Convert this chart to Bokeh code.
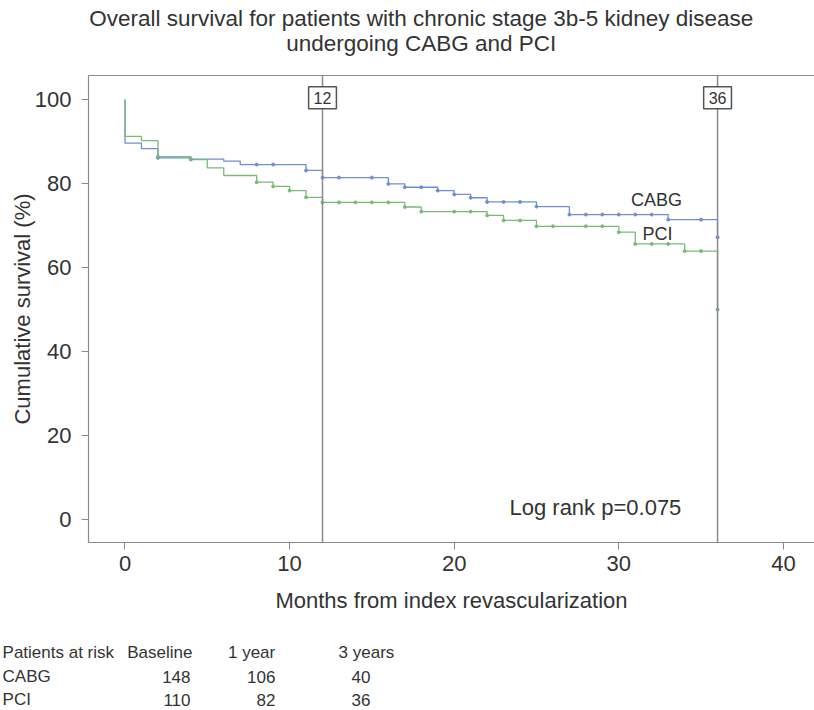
from bokeh.plotting import figure
from bokeh.layouts import column
from bokeh.models import Span, Label, FixedTicker, Range1d, LinearAxis
from bokeh.core.properties import value
from bokeh.embed import file_html
from bokeh.resources import INLINE

# ---- data ----
cabg_t = [0, 0, 1, 2, 4, 6, 7, 11, 12, 16, 17, 19, 20, 21, 22, 25, 27, 33, 36]
cabg_s = [100, 89.6, 88.3, 86.1, 85.8, 85.3, 84.5, 83.1, 81.4, 79.9, 79.1, 78.3, 77.4, 76.6, 75.6, 74.5, 72.6, 71.4, 67.2]
cabg_cens = [2, 4, 8, 9, 11, 12, 13, 15, 16, 17, 18, 19, 20, 21, 22, 23, 24, 25, 27, 28, 29, 30, 31, 32, 33, 35, 36]

pci_t = [0, 0, 1, 2, 4, 5, 6, 8, 9, 10, 11, 12, 17, 18, 22, 23, 25, 30, 31, 34, 36]
pci_s = [100, 91.2, 90.2, 86.4, 85.7, 83.7, 81.9, 80.3, 79.3, 78.3, 76.7, 75.5, 74.4, 73.3, 72.4, 71.2, 69.8, 68.4, 65.6, 63.9, 50.0]
pci_cens = [2, 4, 8, 9, 10, 11, 12, 13, 14, 15, 16, 17, 18, 20, 21, 22, 23, 24, 25, 26, 28, 29, 30, 31, 32, 33, 34, 35, 36]

landmarks = [12, 36]
x_ticks = [0, 10, 20, 30, 40]
y_ticks = [0, 20, 40, 60, 80, 100]

risk_header = ["Patients at risk", "Baseline", "1 year", "3 years"]
risk_groups = ["CABG", "PCI"]
risk_baseline = [148, 110]
risk_1yr = [106, 82]
risk_3yr = [40, 36]

title_lines = ["Overall survival for patients with chronic stage 3b-5 kidney disease",
               "undergoing CABG and PCI"]

BLUE = "#6f8ed6"
GREEN = "#78bb78"
TXT = "#333333"
GRAY = "#8a8a8a"
FONT = "Liberation Sans"
W = 814
X_LO_FULL, X_LO, X_HI = -7.564, -2.2175, 41.89   # month scale (full canvas / plot frame)


def surv_at(ts, ss, t):
    v = ss[0]
    for ti, si in zip(ts, ss):
        if ti <= t:
            v = si
    return v


def bare_fig(h, y0, y1):
    f = figure(width=W, height=h, output_backend="svg", toolbar_location=None,
               x_range=Range1d(X_LO_FULL, X_HI), y_range=Range1d(y0, y1),
               x_axis_type=None, y_axis_type=None, frame_align=False,
               min_border_left=0, min_border_right=0, min_border_top=0, min_border_bottom=0)
    f.grid.visible = False
    f.outline_line_color = None
    return f


def txt(f, x, y, text, size, align="center"):
    f.text(x=[x], y=[y], text=[text], text_align=align, text_baseline="middle",
           text_font=value(FONT), text_font_size=size, text_color=TXT)


# ---- title strip ----
pt = bare_fig(60, 60, 0)
txt(pt, 18.0, 18, title_lines[0], "22.5px")
txt(pt, 18.0, 43, title_lines[1], "22.5px")

# ---- main plot ----
p = figure(width=W, height=570, output_backend="svg", toolbar_location=None,
           x_range=(X_LO, X_HI), y_range=(-5.48, 105.71), frame_align=False,
           min_border_left=88, min_border_right=0, min_border_top=15, min_border_bottom=88)
p.grid.visible = False
p.outline_line_color = None

bx = p.below[0]
ly = p.left[0]
for ax in (bx, ly):
    ax.axis_line_color = GRAY
    ax.axis_line_width = 1.2
    ax.major_tick_line_color = GRAY
    ax.major_tick_out = 7
    ax.major_tick_in = 0
    ax.minor_tick_line_color = None
    ax.major_label_text_font = FONT
    ax.major_label_text_font_size = "22px"
    ax.major_label_text_color = TXT
    ax.axis_label_text_font = FONT
    ax.axis_label_text_font_size = "22px"
    ax.axis_label_text_color = TXT
    ax.axis_label_text_font_style = "normal"

bx.ticker = FixedTicker(ticks=x_ticks)
ly.ticker = FixedTicker(ticks=y_ticks)
bx.axis_label = "Months from index revascularization"
ly.axis_label = "Cumulative survival (%)"
bx.major_label_standoff = 6
bx.axis_label_standoff = 14
ly.major_label_standoff = 10
ly.axis_label_standoff = -3

# top border of the frame only (its right side lies beyond the picture edge)
top_ax = LinearAxis(ticker=FixedTicker(ticks=[]), axis_line_color=GRAY, axis_line_width=1.2,
                    major_tick_line_color=None, minor_tick_line_color=None,
                    major_tick_out=0, major_tick_in=0, minor_tick_out=0, minor_tick_in=0,
                    major_label_standoff=0, major_label_text_font_size="0px",
                    major_label_text_color=None)
p.add_layout(top_ax, "above")

for lm in landmarks:
    p.add_layout(Span(location=lm, dimension="height", line_color=GRAY, line_width=1.5))

p.step(cabg_t, cabg_s, mode="after", line_color=BLUE, line_width=1.3)
p.step(pci_t, pci_s, mode="after", line_color=GREEN, line_width=1.3)
p.scatter(cabg_cens, [surv_at(cabg_t, cabg_s, t) for t in cabg_cens], size=3,
          marker="circle", fill_color=BLUE, line_color=BLUE)
p.scatter(pci_cens, [surv_at(pci_t, pci_s, t) for t in pci_cens], size=3,
          marker="circle", fill_color=GREEN, line_color=GREEN)

for lm in landmarks:
    p.add_layout(Label(x=lm, y=100.4, text=str(lm), text_align="center", text_baseline="middle",
                       text_font=FONT, text_font_size="16px", text_color=TXT,
                       background_fill_color="white", border_line_color="#555555",
                       border_line_width=1.5, padding=5))


def lab(x, y, text, size="22px"):
    p.add_layout(Label(x=x, y=y, text=text, text_align="center", text_baseline="middle",
                       text_font=FONT, text_font_size=size, text_color=TXT))


lab(32.29, 76.1, "CABG", "18px")
lab(32.35, 67.9, "PCI", "18px")
lab(28.58, 2.86, "Log rank p=0.075")

# ---- numbers-at-risk table ----
ptab = bare_fig(80, 710, 630)
row_y = [652, 676, 699]
first_col = -7.44
txt(ptab, first_col, row_y[0], risk_header[0], "17px", "left")
txt(ptab, 4.10, row_y[0], risk_header[1], "17px", "right")
txt(ptab, 7.69, row_y[0], risk_header[2], "17px", "center")
txt(ptab, 14.67, row_y[0], risk_header[3], "17px", "center")
for i, g in enumerate(risk_groups):
    txt(ptab, first_col, row_y[i + 1], g, "17px", "left")
    txt(ptab, 3.98, row_y[i + 1], str(risk_baseline[i]), "17px", "right")
    txt(ptab, 9.14, row_y[i + 1], str(risk_1yr[i]), "17px", "right")
    txt(ptab, 14.91, row_y[i + 1], str(risk_3yr[i]), "17px", "right")

layout = column(pt, p, ptab, spacing=0)
open("out.html", "w").write(file_html(layout, INLINE))
